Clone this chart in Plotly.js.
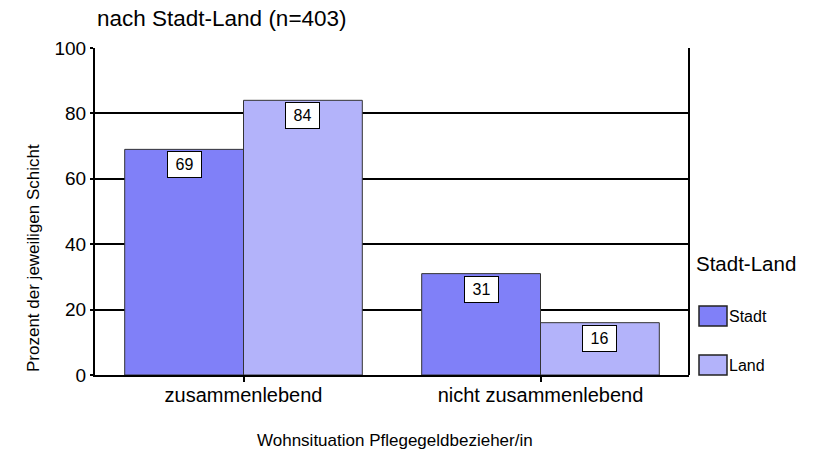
<!DOCTYPE html>
<html><head><meta charset="utf-8">
<script src="https://cdn.plot.ly/plotly-3.0.1.min.js"></script>
<style>html,body{margin:0;padding:0;background:#fff}#chart{width:816px;height:451px}</style>
</head><body><div id="chart"></div>
<script>
const categories = ["zusammenlebend", "nicht zusammenlebend"];
const seriesNames = ["Stadt", "Land"];
const stadtValues = [69, 31];
const landValues = [84, 16];
const yTicks = [0, 20, 40, 60, 80, 100];
const colors = ["#8080f8", "#b3b3fa"];

const font = "Liberation Sans, Arial, sans-serif";
const allValues = [stadtValues, landValues];

const traces = allValues.map((vals, i) => ({
  type: "bar", name: seriesNames[i], x: categories, y: vals,
  marker: {color: colors[i], line: {color: "#333", width: 1}},
  showlegend: false, hoverinfo: "none"
}));

const annotations = [];
allValues.forEach((vals, i) => {
  vals.forEach((v, j) => {
    annotations.push({
      x: j + (i === 0 ? -0.2 : 0.2), y: v, xref: "x", yref: "y",
      text: String(v), showarrow: false, yanchor: "top", yshift: -2,
      font: {family: font, size: 16, color: "#000"},
      bgcolor: "#fff", bordercolor: "#000", borderwidth: 1,
      width: 31, height: 23, borderpad: 1
    });
  });
});

const W = 816, H = 451, mL = 95, mR = 127, mT = 48, mB = 76;
const pw = W - mL - mR, ph = H - mT - mB;
const px2x = p => (p - mL) / pw, py2y = p => (H - mB - p) / ph;

const pAnn = (x, y, text, opts) => Object.assign({xref: "paper", yref: "paper", x: px2x(x), y: py2y(y),
  text: text, showarrow: false}, opts);
annotations.push(pAnn(694, 263, "Stadt-Land", {xanchor: "left", yanchor: "middle",
  font: {family: font, size: 20.5, color: "#000"}}));
annotations.push(pAnn(33, 258, "Prozent der jeweiligen Schicht", {xanchor: "center", yanchor: "middle", textangle: -90,
  font: {family: font, size: 17, color: "#000"}}));
annotations.push(pAnn(395, 440, "Wohnsituation Pflegegeldbezieher/in", {xanchor: "center", yanchor: "middle",
  font: {family: font, size: 17, color: "#000"}}));

const shapes = [];
seriesNames.forEach((n, i) => {
  const cy = 316 + i * 49;
  shapes.push({type: "rect", xref: "paper", yref: "paper", x0: px2x(699), x1: px2x(727),
    y0: py2y(cy + 10), y1: py2y(cy - 10), fillcolor: colors[i], line: {color: "#222", width: 1.5}});
  annotations.push(pAnn(727, cy, n, {xanchor: "left", yanchor: "middle",
    font: {family: font, size: 16, color: "#000"}}));
});
shapes.push({type: "line", xref: "paper", yref: "paper", x0: 1, x1: 1, y0: 0, y1: 1, line: {color: "#000", width: 2}});

const layout = {
  width: W, height: H, margin: {l: mL, r: mR, t: mT, b: mB},
  paper_bgcolor: "#fff", plot_bgcolor: "#fff",
  barmode: "group", bargap: 0.2, bargroupgap: 0,
  title: {text: "nach Stadt-Land (n=403)", x: 97 / W, xanchor: "left", y: 1 - 18 / H, yanchor: "middle",
    font: {family: font, size: 22.5, color: "#000"}},
  xaxis: {type: "category", showgrid: false, showline: true, linecolor: "#000", linewidth: 2,
    ticks: "outside", ticklen: 5, tickcolor: "#000", tickwidth: 2, ticklabelstandoff: -4,
    tickfont: {family: font, size: 20, color: "#000"}},
  yaxis: {range: [0, 100], tickvals: yTicks, showgrid: true, gridcolor: "#000", gridwidth: 2,
    showline: true, linecolor: "#000", linewidth: 2, zeroline: false,
    ticks: "outside", ticklen: 3, tickcolor: "#000", tickwidth: 2,
    tickfont: {family: font, size: 19, color: "#000"}},
  annotations: annotations, shapes: shapes, showlegend: false
};

Plotly.newPlot("chart", traces, layout, {displayModeBar: false, staticPlot: true});
</script></body></html>
